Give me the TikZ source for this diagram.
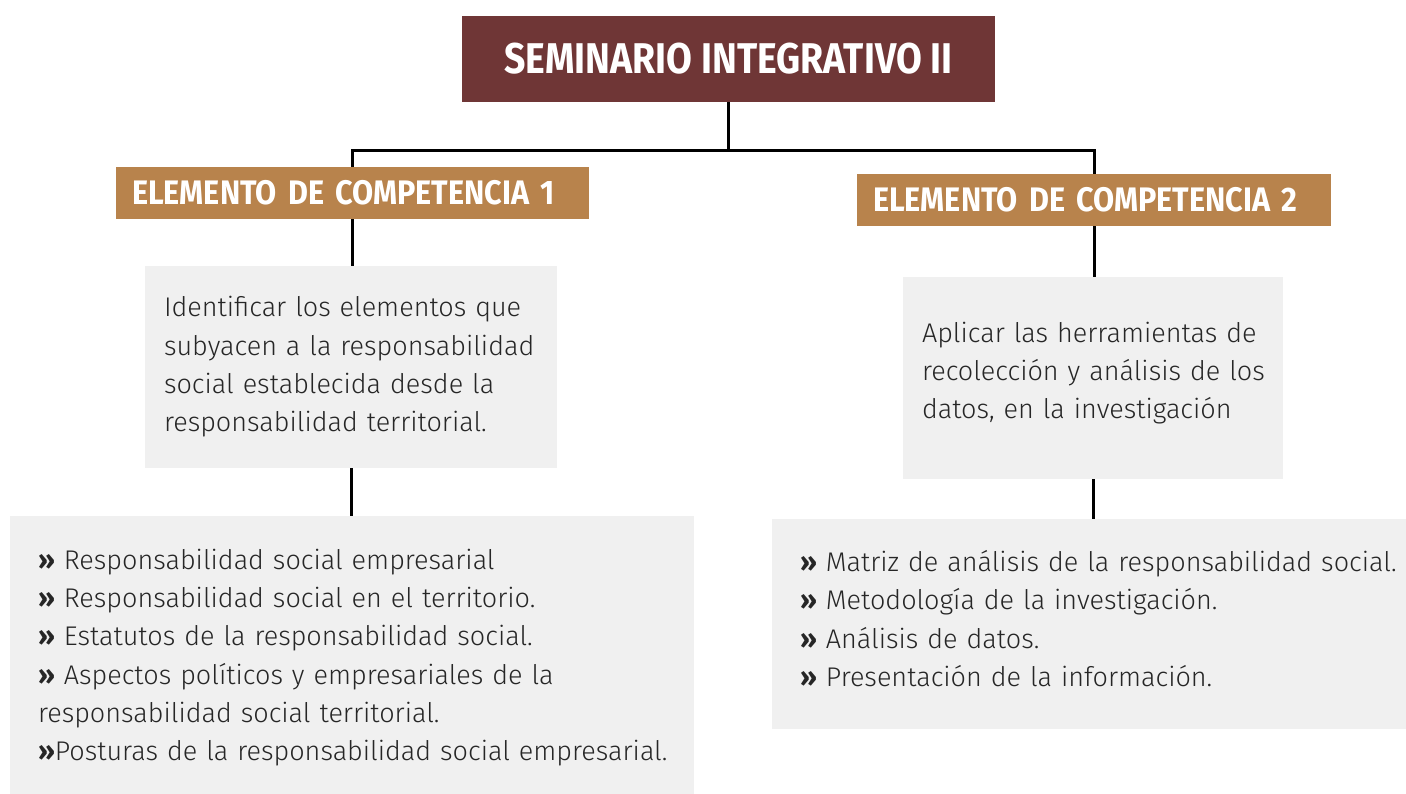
\documentclass[tikz,border=0pt]{standalone}
\usepackage{fontspec}
\setmainfont{Fira Sans}[UprightFont=* Light, BoldFont=* Bold]
\newfontfamily\titlefont{Fira Sans}[UprightFont=* Bold, FakeStretch=0.87]
\newfontfamily\headfont{Fira Sans}[UprightFont=* Bold, FakeStretch=0.9]
\usepackage{tikz}
\usetikzlibrary{positioning}
\definecolor{titleRed}{RGB}{111,54,54}
\definecolor{compGold}{RGB}{184,131,76}
\definecolor{boxGray}{RGB}{240,240,240}
\newcommand{\gbul}{{\bfseries »}}

\begin{document}
\begin{tikzpicture}[x=1pt,y=-1pt,
  titlebox/.style={fill=titleRed,text=white,minimum width=533pt,minimum height=86pt,font=\titlefont\fontsize{43}{48}\selectfont},
  compbox/.style={fill=compGold,text=white,minimum height=52pt,inner xsep=16pt,inner ysep=0pt,align=left,font=\headfont\fontsize{34}{38}\selectfont},
  graybox/.style={fill=boxGray,text=black!85,align=left,inner ysep=0pt,font=\fontsize{27}{38.3}\selectfont},
  conn/.style={line width=3pt}]
  \useasboundingbox (0,0) rectangle (1406,793);
  % header
  \node[titlebox] (title) at (728.5,59) {SEMINARIO INTEGRATIVO II};
  % competence 1
  \node[compbox,text width=441pt] (ec1) at (352.5,193) {ELEMENTO DE COMPETENCIA 1};
  \node[graybox,text width=374pt,inner xsep=19pt,minimum height=202pt] (desc1) at (351,367)
    {Identificar los elementos que\\subyacen a la responsabilidad\\social establecida desde la\\responsabilidad territorial.};
  \node[graybox,text width=628pt,inner xsep=28pt,minimum height=283pt] (list1) at (352,657.5)
    {\gbul{} Responsabilidad social empresarial\\
     \gbul{} Responsabilidad social en el territorio.\\
     \gbul{} Estatutos de la responsabilidad social.\\
     \gbul{} Aspectos políticos y empresariales de la\\
     responsabilidad social territorial.\\
     \mbox{\gbul Posturas de la responsabilidad social empresarial.}};
  % competence 2
  \node[graybox,text width=342pt,inner xsep=19pt,minimum height=202pt] (desc2) at (1093,378)
    {Aplicar las herramientas de\\\mbox{recolección y análisis de los}\\datos, en la investigación\par\vspace{10pt}};
  \node[compbox,text width=442pt] (ec2) at (1094,200) {ELEMENTO DE COMPETENCIA 2};
  \node[graybox,text width=578pt,inner xsep=28pt,minimum height=210pt] (list2) at (1089,624)
    {\mbox{\gbul{} Matriz de análisis de la responsabilidad social.}\\
     \gbul{} Metodología de la investigación.\\
     \gbul{} Análisis de datos.\\
     \gbul{} Presentación de la información.\par\vspace{11pt}};
  % connectors
  \draw[conn] (title.south) -- ++(0,48) coordinate (fork);
  \draw[conn] (fork) -| (ec1.north);
  \draw[conn] (fork) -| (ec2.north);
  \draw[conn] (ec1.south) -- (ec1.south |- desc1.north);
  \draw[conn] (desc1.south) -- (desc1.south |- list1.north);
  \draw[conn] (ec2.south) -- (ec2.south |- desc2.north);
  \draw[conn] (desc2.south) -- (desc2.south |- list2.north);
\end{tikzpicture}
\end{document}
